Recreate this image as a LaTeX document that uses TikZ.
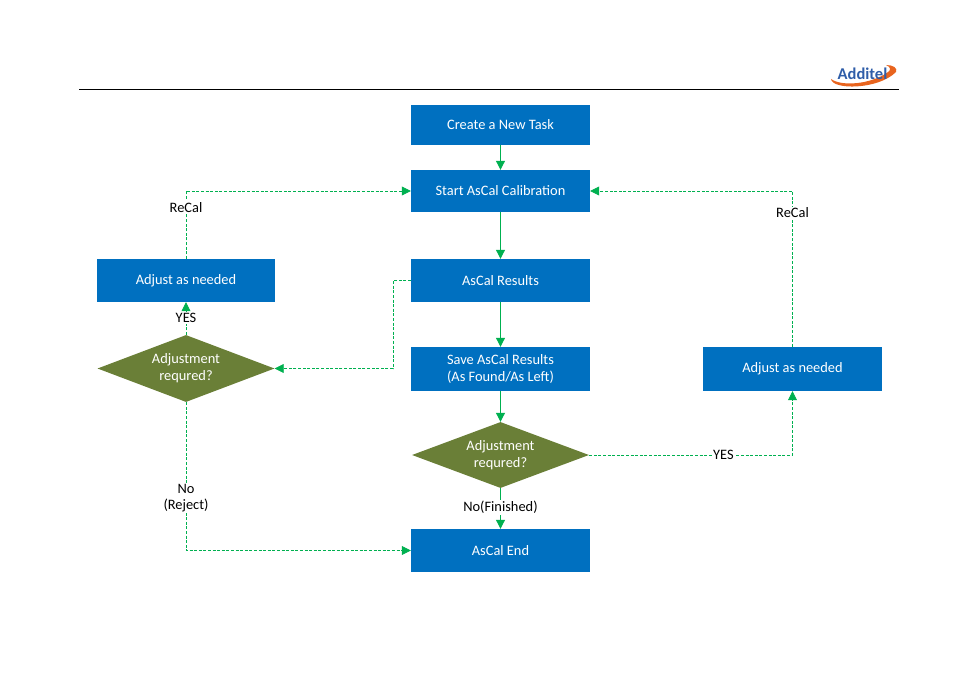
\documentclass[tikz,border=0pt]{standalone}
\usepackage{fontspec}
\setmainfont{Carlito}
\usetikzlibrary{shapes.geometric,arrows.meta}
\definecolor{boxblue}{HTML}{0070C0}
\definecolor{olive}{HTML}{6A7F37}
\definecolor{linegreen}{HTML}{00B050}
\definecolor{logoblue}{HTML}{2F5DA8}
\definecolor{logoorange}{HTML}{E8641E}
\begin{document}
\begin{tikzpicture}[
  x=1pt, y=-1pt,
  task/.style={fill=boxblue, text=white, minimum width=179pt, minimum height=42pt, inner sep=0pt, align=center, font=\fontsize{14.4}{17}\selectfont},
  check/.style={diamond, aspect=2.68, fill=olive, text=white, minimum width=177pt, minimum height=66pt, inner sep=0pt, align=center, font=\fontsize{14.4}{17}\selectfont},
  flow/.style={draw=linegreen, line width=1pt, -{Triangle[length=9pt,width=9pt]}},
  back/.style={flow, line width=0.7pt, dash pattern=on 3pt off 1.6pt},
  tag/.style={fill=white, inner sep=1pt, align=center, text=black, font=\fontsize{14.4}{16}\selectfont},
]
  \useasboundingbox (0,0) rectangle (954,674);

  \node[task, minimum height=40pt] (newtask) at (500.5, 125) {Create a New Task};
  \node[task] (start) at (500.5, 191) {Start AsCal Calibration};
  \node[task, minimum height=43pt] (results) at (500.5, 280.5) {AsCal Results};
  \node[task, minimum height=44pt] (save) at (500.5, 369) {Save AsCal Results\\(As Found/As Left)};
  \node[check] (checkmid) at (500.5, 455) {Adjustment\\requred?};
  \node[task, minimum height=43pt] (finish) at (500.5, 550.5) {AsCal End};

  \node[task, minimum height=43pt, minimum width=178pt] (adjleft) at (186, 280.5) {Adjust as needed};
  \node[check, minimum height=67pt] (checkleft) at (186, 368.5) {Adjustment\\requred?};
  \node[task, minimum height=44pt] (adjright) at (792.5, 369) {Adjust as needed};

  % main line
  \draw[flow] (newtask) -- (start);
  \draw[flow] (start) -- (results);
  \draw[flow] (results) -- (save);
  \draw[flow] (save) -- (checkmid);
  \draw[flow] (checkmid) -- node[tag, pos=0.48] {No(Finished)} (finish);

  % left loop
  \coordinate (bend) at (393, 280.5);
  \draw[back] (results.west) -- (bend) |- (checkleft.east);
  \draw[back] (checkleft.north) -- node[tag, pos=0.52] {YES} (adjleft.south);
  \draw[back] (adjleft.north) |- node[tag, pos=0.38] {ReCal} (start.west);
  \draw[back] (checkleft.south) |- node[tag, pos=0.325] {No\\(Reject)} (finish.west);

  % right loop
  \draw[back] (checkmid.east) -| node[tag, pos=0.33] {YES} (adjright.south);
  \draw[back] (adjright.north) |- node[tag, pos=0.43] {ReCal} (start.east);

  % header
  \coordinate (ruleleft) at (79, 89.5);
  \coordinate (ruleright) at (899, 89.5);
  \draw[line width=0.9pt] (ruleleft) -- (ruleright);
  \fill[logoorange] (831,79) .. controls (832,90) and (878,90) .. (896,72) .. controls (898,68) and (893,65) .. (886,65)
    .. controls (891,67) and (891,70) .. (888,72) .. controls (872,84) and (842,87) .. (831,79) -- cycle;
  \node[text=logoblue, inner sep=0pt, font=\fontsize{16.5}{16.5}\selectfont\bfseries] (logo) at (862.5, 73.5) {Additel};
\end{tikzpicture}
\end{document}
